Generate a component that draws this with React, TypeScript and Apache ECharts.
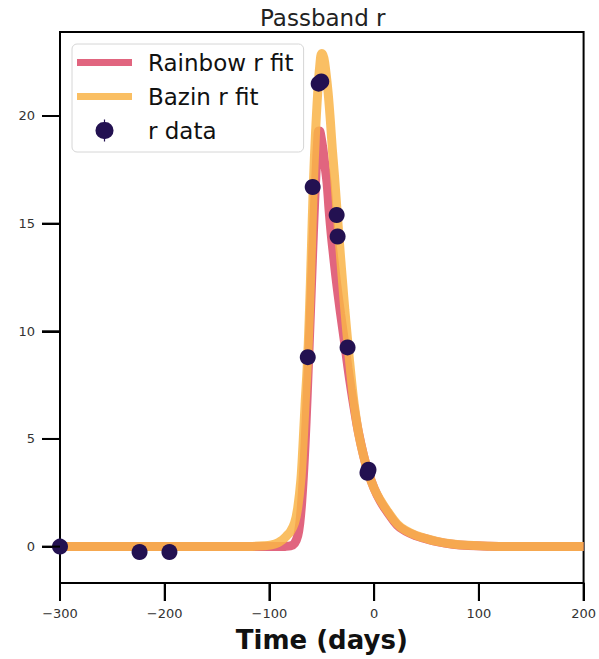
import React, { useEffect, useRef } from "react";
import * as echarts from "echarts";

// Rainbow fit curve
const rainbowT = [-300, -200, -100, -85, -80, -76, -73, -71, -69, -67, -65, -63, -61, -59, -57, -55, -54, -53, -52, -51, -49, -47, -45, -43, -41, -39, -36, -32, -28, -25, -22, -19, -15, -10, -6, 0, 6, 12, 22, 30, 40, 48, 60, 75, 90, 110, 140, 200];
const rainbowY = [0, 0, 0, 0.01, 0.03, 0.15, 0.5, 1.1, 2.2, 3.8, 5.8, 8.2, 10.7, 13.3, 15.8, 17.9, 18.8, 19.3, 19.3, 19.1, 18.5, 17.7, 16.9, 15.6, 14.5, 13.6, 12.3, 10.8, 9.4, 8.3, 7.3, 6.4, 5.3, 4.2, 3.5, 2.7, 2.1, 1.65, 1.0, 0.72, 0.5, 0.38, 0.23, 0.11, 0.05, 0.02, 0.005, 0];

// Bazin fit curve
const bazinT = [-300, -200, -120, -105, -98, -92, -88, -84, -80, -76, -73, -70, -68, -66, -64, -62, -60, -58, -56, -54, -52, -50, -48, -46, -44, -42, -40, -38, -35, -32, -30, -28, -25, -22, -19, -15, -10, -6, 0, 6, 12, 22, 30, 40, 48, 60, 75, 90, 110, 140, 200];
const bazinY = [0, 0, 0.01, 0.04, 0.08, 0.17, 0.3, 0.48, 0.7, 1.1, 1.8, 3.1, 4.7, 6.6, 8.3, 10.6, 13.7, 16.9, 19.2, 21.0, 22.3, 22.9, 22.7, 22.0, 21.1, 19.9, 18.5, 17.3, 15.3, 13.4, 12.2, 11.0, 9.4, 7.9, 6.6, 5.3, 4.2, 3.5, 2.7, 2.15, 1.7, 1.05, 0.75, 0.52, 0.4, 0.24, 0.12, 0.06, 0.02, 0.005, 0];

// r data
const dataT = [-300, -224, -195.5, -63.4, -58.7, -53, -50.5, -35.8, -34.9, -25.4, -6.4, -5.4];
const dataY = [0, -0.25, -0.25, 8.8, 16.7, 21.5, 21.6, 15.4, 14.4, 9.25, 3.43, 3.57];

const xTicks = [-300, -200, -100, 0, 100, 200];
const yTicks = [0, 5, 10, 15, 20];
const X_MIN = -300;
const X_MAX = 200;
const Y_MIN = -1.69;
const Y_MAX = 23.9;

const zip = (a: number[], b: number[]) => a.map((v, i) => [v, b[i]]);
const fmt = (v: number) => (v < 0 ? "\u2212" + Math.abs(v) : String(v));

const FONT = "DejaVu Sans";
const TICK_LEN = 18;
const lineIcon = "path://M0,0 H55 V7 H0 Z";
const dotIcon =
  "path://M6.9,0 H8.1 V2.55 A7.5,7.5 0 0 1 8.1,19.45 V22 H6.9 V19.45 A7.5,7.5 0 0 1 6.9,2.55 Z";

export default function App() {
  const ref = useRef<HTMLDivElement>(null);
  useEffect(() => {
    if (!ref.current) return;
    const chart = echarts.init(ref.current, null, { renderer: "svg" });
    chart.setOption({
      animation: false,
      backgroundColor: "#ffffff",
      title: {
        text: "Passband r",
        left: 255,
        top: 1,
        textStyle: { fontFamily: FONT, fontSize: 23, fontWeight: "normal", color: "#222" },
      },
      grid: {
        left: 60,
        right: 13,
        top: 32,
        bottom: 76,
        show: true,
        borderColor: "#000",
        borderWidth: 2,
        backgroundColor: "transparent",
      },
      legend: {
        orient: "vertical",
        left: 72,
        top: 44,
        padding: [7, 10, 10, 5],
        itemWidth: 55,
        itemHeight: 22,
        itemGap: 11,
        symbolKeepAspect: true,
        backgroundColor: "rgba(255,255,255,0.85)",
        borderColor: "#d6d6d6",
        borderWidth: 1,
        borderRadius: 5,
        textStyle: {
          fontFamily: FONT,
          fontSize: 23,
          color: "#111",
          lineHeight: 22,
          padding: [0, 0, 0, 11],
        },
        data: [
          { name: "Rainbow r fit", icon: lineIcon },
          { name: "Bazin r fit", icon: lineIcon },
          { name: "r data", icon: dotIcon },
        ],
      },
      xAxis: {
        type: "value",
        min: X_MIN,
        max: X_MAX,
        interval: 100,
        name: "Time (days)",
        nameLocation: "middle",
        nameGap: 44,
        nameTextStyle: { fontFamily: FONT, fontSize: 26, fontWeight: "bold", color: "#111" },
        axisLine: { show: true, onZero: false, lineStyle: { color: "#000", width: 2 } },
        axisTick: { show: true, inside: false, length: TICK_LEN, lineStyle: { color: "#000", width: 2 } },
        axisLabel: {
          fontFamily: FONT,
          fontSize: 13,
          color: "#333",
          margin: 24,
          formatter: (v: number) => (xTicks.includes(v) ? fmt(v) : ""),
        },
        splitLine: { show: false },
      },
      yAxis: {
        type: "value",
        min: Y_MIN,
        max: Y_MAX,
        axisLine: { show: true, onZero: false, lineStyle: { color: "#000", width: 2 } },
        axisTick: { show: true, inside: false, length: TICK_LEN, customValues: yTicks, lineStyle: { color: "#000", width: 2 } },
        axisLabel: {
          fontFamily: FONT,
          fontSize: 13,
          color: "#333",
          margin: 25,
          customValues: yTicks,
          formatter: (v: number) => fmt(v),
        },
        splitLine: { show: false },
      },
      series: [
        {
          name: "Rainbow r fit",
          type: "line",
          data: zip(rainbowT, rainbowY),
          showSymbol: false,
          symbol: "none",
          smooth: 0.4,
          lineStyle: { color: "#e1657f", width: 9 },
          itemStyle: { color: "#e1657f" },
          z: 2,
        },
        {
          name: "Bazin r fit",
          type: "line",
          data: zip(bazinT, bazinY),
          showSymbol: false,
          symbol: "none",
          smooth: 0.4,
          lineStyle: { color: "#f9b448", width: 9, opacity: 0.85 },
          itemStyle: { color: "#fabf63" },
          z: 3,
        },
        {
          name: "r data",
          type: "scatter",
          data: zip(dataT, dataY),
          symbol: "circle",
          symbolSize: 16,
          itemStyle: { color: "#231151", opacity: 1 },
          z: 4,
        },
      ],
    });

    // Tick marks placed through the chart's own scales
    const ticks: any[] = [];
    xTicks.forEach((v) => {
      const p = chart.convertToPixel({ gridIndex: 0 }, [v, Y_MIN]) as number[];
      ticks.push({
        type: "line",
        silent: true,
        shape: { x1: p[0], y1: p[1], x2: p[0], y2: p[1] + TICK_LEN },
        style: { stroke: "#000", lineWidth: 2 },
        z: 10,
      });
    });
    yTicks.forEach((v) => {
      const p = chart.convertToPixel({ gridIndex: 0 }, [X_MIN, v]) as number[];
      ticks.push({
        type: "line",
        silent: true,
        shape: { x1: p[0] - TICK_LEN, y1: p[1], x2: p[0], y2: p[1] },
        style: { stroke: "#000", lineWidth: 2 },
        z: 10,
      });
    });
    chart.setOption({ graphic: ticks });

    return () => chart.dispose();
  }, []);
  return (
    <div
      ref={ref}
      style={{ position: "fixed", left: 0, top: 0, width: 599, height: 659 }}
    />
  );
}
